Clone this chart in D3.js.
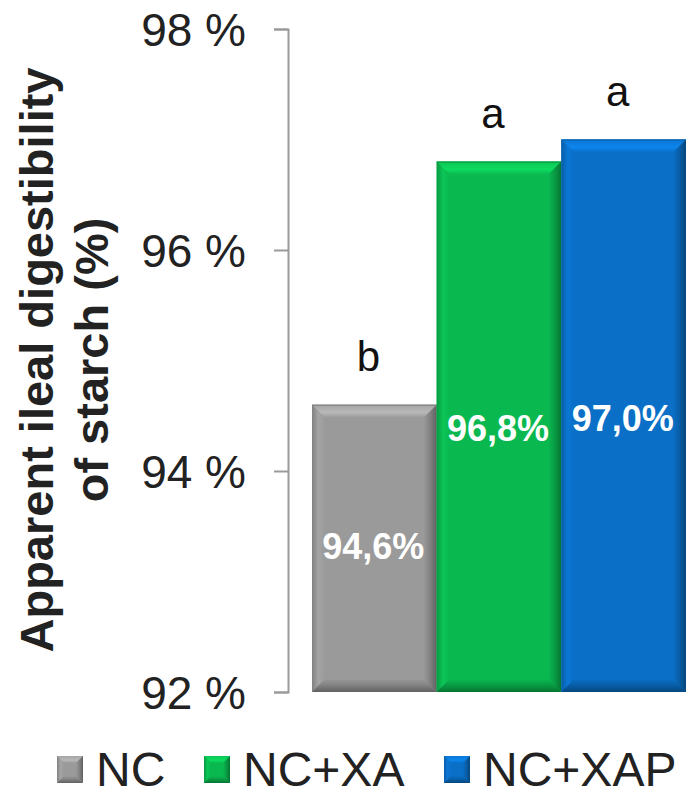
<!DOCTYPE html>
<html>
<head>
<meta charset="utf-8">
<script src="https://cdn.jsdelivr.net/npm/d3@7"></script>
<style>
  html, body { margin: 0; padding: 0; background: #fff; }
  svg { display: block; font-family: "Liberation Sans", Arial, sans-serif; }
</style>
</head>
<body>
<svg id="chart" width="686" height="791"></svg>
<script>
// Treatments and their apparent ileal digestibility of starch (%)
const categories = ["NC", "NC+XA", "NC+XAP"];
const values = [94.6, 96.8, 97.0];
const valueLabels = ["94,6%", "96,8%", "97,0%"];
const letters = ["b", "a", "a"];
const colors = ["#9a9a9a", "#0ab850", "#0a6fc6"];
const yTicks = [92, 94, 96, 98];

const svg = d3.select("#chart");
const defs = svg.append("defs");

const y = d3.scaleLinear().domain([92, 98]).range([692, 29]);
const x = d3.scaleBand().domain(categories).range([312, 686]).padding(0);

// y axis with outward ticks
const axis = d3.axisLeft(y)
  .tickValues(yTicks)
  .tickSize(14)
  .tickFormat(d => d + " %");
const gAxis = svg.append("g").attr("transform", "translate(288,0)").call(axis);
gAxis.select(".domain").attr("stroke", "#9a9a9a").attr("stroke-width", 2);
gAxis.selectAll(".tick line").attr("stroke", "#9a9a9a").attr("stroke-width", 2);
gAxis.selectAll(".tick text")
  .attr("x", -42)
  .attr("dy", "0.36em")
  .attr("fill", "#222")
  .style("font-size", "46px")
  .style("font-family", "\"Liberation Sans\", Arial, sans-serif");

// gradient helper in user space
let gid = 0;
function grad(x1, y1, x2, y2, stops) {
  const id = "g" + (gid++);
  const g = defs.append("linearGradient").attr("id", id)
    .attr("gradientUnits", "userSpaceOnUse")
    .attr("x1", x1).attr("y1", y1).attr("x2", x2).attr("y2", y2);
  stops.forEach(([o, c]) => g.append("stop").attr("offset", o).attr("stop-color", c));
  return "url(#" + id + ")";
}

// Beveled bar: flat face plus four shaded edge strips
function bevelRect(g, x0, y0, x1, y1, base, b) {
  const face = d3.color(base).formatHex();
  const hi = d3.color(base).brighter(0.5).formatHex();
  const hiSoft = d3.color(base).brighter(0.2).formatHex();
  const lo = d3.color(base).darker(0.5).formatHex();
  const loDeep = d3.color(base).darker(1.3).formatHex();
  const pts = a => a.map(p => p.join(",")).join(" ");
  g.append("rect").attr("x", x0).attr("y", y0).attr("width", x1 - x0).attr("height", y1 - y0).attr("fill", face);
  g.append("polygon").attr("points", pts([[x0, y0], [x1, y0], [x1 - b, y0 + b], [x0 + b, y0 + b]]))
    .attr("fill", grad(0, y0, 0, y0 + b, [[0, hiSoft], [0.6, hi], [1, face]]));
  g.append("polygon").attr("points", pts([[x0, y0], [x0 + b, y0 + b], [x0 + b, y1 - b], [x0, y1]]))
    .attr("fill", grad(x0, 0, x0 + b, 0, [[0, lo], [0.5, hiSoft], [1, face]]));
  g.append("polygon").attr("points", pts([[x1, y0], [x1, y1], [x1 - b, y1 - b], [x1 - b, y0 + b]]))
    .attr("fill", grad(x1 - b, 0, x1, 0, [[0, face], [0.5, lo], [1, loDeep]]));
  g.append("polygon").attr("points", pts([[x0, y1], [x0 + b, y1 - b], [x1 - b, y1 - b], [x1, y1]]))
    .attr("fill", grad(0, y1 - b, 0, y1, [[0, face], [0.5, lo], [1, loDeep]]));
}

const gBars = svg.append("g");
categories.forEach((cat, i) => {
  const x0 = x(cat), x1 = x(cat) + x.bandwidth();
  const g = gBars.append("g");
  bevelRect(g, x0, y(values[i]), x1, y(92), colors[i], 13);
  g.append("line")
    .attr("x1", x0).attr("x2", x1)
    .attr("y1", y(values[i]) + 0.5).attr("y2", y(values[i]) + 0.5)
    .attr("stroke", d3.color(colors[i]).darker(0.6)).attr("stroke-width", 1);
});

// value labels inside bars
const labelY = [546, 428, 418];
svg.append("g").selectAll("text")
  .data(categories)
  .join("text")
  .attr("x", d => x(d) + x.bandwidth() / 2 - 1)
  .attr("y", (d, i) => labelY[i])
  .attr("text-anchor", "middle")
  .attr("dy", "0.36em")
  .attr("fill", "#fff")
  .style("font-weight", "bold")
  .style("font-size", "36px")
  .text((d, i) => valueLabels[i]);

// significance letters above bars
svg.append("g").selectAll("text")
  .data(categories)
  .join("text")
  .attr("x", d => x(d) + x.bandwidth() / 2 - 6)
  .attr("y", (d, i) => y(values[i]) - 34)
  .attr("text-anchor", "middle")
  .attr("fill", "#111")
  .style("font-size", "42px")
  .text((d, i) => letters[i]);

// rotated y-axis title
const title = svg.append("text")
  .attr("transform", "translate(0,360) rotate(-90)")
  .attr("text-anchor", "middle")
  .attr("fill", "#222")
  .style("font-weight", "bold")
  .style("font-size", "47px");
title.append("tspan").attr("x", 0).attr("y", 53).text("Apparent ileal digestibility");
title.append("tspan").attr("x", 0).attr("y", 108).text("of starch (%)");

// legend
const legendX = [57, 204, 444];
const gLeg = svg.append("g");
categories.forEach((cat, i) => {
  const lx = legendX[i], ly = 756;
  bevelRect(gLeg, lx, ly, lx + 26, ly + 27, colors[i], 7);
  gLeg.append("text")
    .attr("x", lx + 39)
    .attr("y", 786)
    .attr("fill", "#222")
    .style("font-size", "48px")
    .text(cat);
});
</script>
</body>
</html>
